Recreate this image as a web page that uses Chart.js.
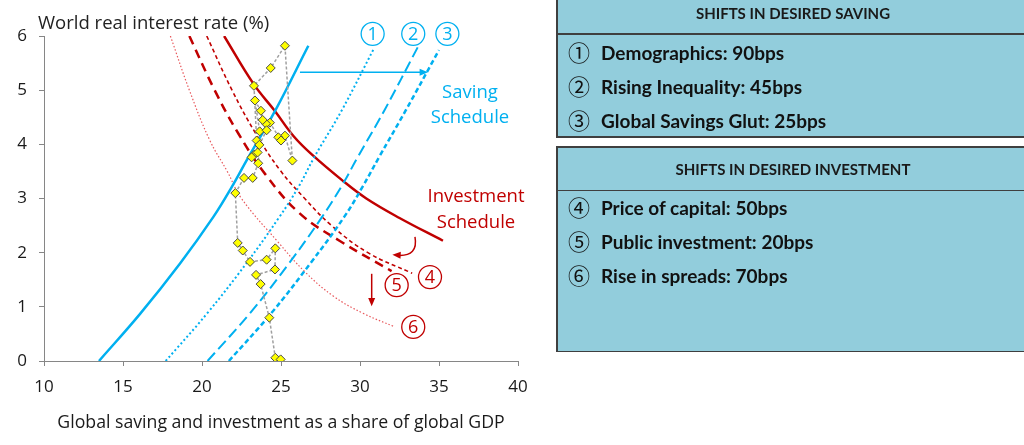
<!DOCTYPE html>
<html><head><meta charset="utf-8">
<script src="https://cdn.jsdelivr.net/npm/chart.js@4/dist/chart.umd.min.js"></script>
<style>
html,body{margin:0;padding:0;background:#fff;overflow:hidden;width:1024px;height:445px;}
canvas{position:absolute;left:0;top:0;}
.bg{position:absolute;background:#92cddc;}
.ln{position:absolute;background:#3f3f3f;}
.hdr{position:absolute;left:556px;width:474px;text-align:center;font:bold 15px Lato,"DejaVu Sans",sans-serif;color:#1a1a1a;line-height:20px;height:20px;}
.item{position:absolute;left:568px;font:bold 19px Lato,"DejaVu Sans",sans-serif;color:#111;white-space:nowrap;line-height:24px;height:24px;}
.item span{font:normal 22px "Noto Sans CJK JP","DejaVu Sans",sans-serif;display:inline-block;width:33px;vertical-align:-1px;line-height:24px;}
</style></head>
<body>
<canvas id="c" width="1024" height="445"></canvas>
<div class="bg" style="left:556px;top:0;width:468px;height:137px"></div>
<div class="ln" style="left:556px;top:0;width:1.5px;height:137px"></div>
<div class="ln" style="left:556px;top:33px;width:468px;height:1.5px"></div>
<div class="ln" style="left:556px;top:136px;width:468px;height:1.5px"></div>
<div class="hdr" style="top:3px">SHIFTS IN DESIRED SAVING</div>
<div class="item" style="top:39px"><span>①</span>Demographics: 90bps</div>
<div class="item" style="top:73px"><span>②</span>Rising Inequality: 45bps</div>
<div class="item" style="top:107px"><span>③</span>Global Savings Glut: 25bps</div>
<div class="bg" style="left:556px;top:146px;width:468px;height:206px"></div>
<div class="ln" style="left:556px;top:146px;width:468px;height:1.5px"></div>
<div class="ln" style="left:556px;top:146px;width:1.5px;height:206px"></div>
<div class="ln" style="left:556px;top:189.5px;width:468px;height:1.5px"></div>
<div class="ln" style="left:556px;top:350.5px;width:468px;height:1.5px"></div>
<div class="hdr" style="top:159px">SHIFTS IN DESIRED INVESTMENT</div>
<div class="item" style="top:194px"><span>④</span>Price of capital: 50bps</div>
<div class="item" style="top:228px"><span>⑤</span>Public investment: 20bps</div>
<div class="item" style="top:262px"><span>⑥</span>Rise in spreads: 70bps</div>
<script>
// ---- data ----
const xTicks = [10, 15, 20, 25, 30, 35, 40];
const yTicks = [0, 1, 2, 3, 4, 5, 6];

// observed world real rate vs saving share (chronological path)
const obsX = [23.31,23.14,23.52,23.46,23.29,24.35,25.25,25.72,25.25,24.83,25.00,24.30,24.05,23.84,23.73,23.35,23.65,24.09,23.63,23.56,23.21,22.66,22.11,22.26,22.58,23.04,24.09,24.64,24.62,23.42,23.71,24.26,24.64,24.98];
const obsY = [3.81,3.76,3.85,4.07,5.08,5.41,5.82,3.70,4.16,4.13,4.07,4.40,4.38,4.45,4.62,4.81,4.24,4.26,3.99,3.65,3.38,3.38,3.10,2.18,2.04,1.83,1.87,2.08,1.69,1.59,1.42,0.80,0.06,0.03];

// saving schedule and shifted saving schedules
const savX  = [13.48,16.08,18.61,20.72,21.88,22.93,24.65,26.73];
const savY  = [0,0.87,1.80,2.66,3.21,3.76,4.63,5.82];
const sav1X = [17.7,20.3,22.8,24.9,26.1,27.1,28.85,30.9];
const sav1Y = [0,0.87,1.80,2.66,3.21,3.76,4.63,5.78];
const sav2X = [20.35,23.0,25.5,27.6,28.8,29.85,31.55,33.65];
const sav2Y = [0,0.87,1.80,2.66,3.21,3.76,4.63,5.79];
const sav3X = [21.7,24.35,26.85,29.0,30.15,31.2,32.9,35.0];
const sav3Y = [0,0.87,1.80,2.66,3.21,3.76,4.63,5.74];

// investment schedule and shifted investment schedules
const invX  = [21.4,23.25,24.6,25.8,27.0,28.9,30.4,32.5,35.25];
const invY  = [6.0,5.12,4.62,4.15,3.80,3.33,3.00,2.64,2.22];
const inv4X = [20.3,21.9,23.4,24.95,26.5,28.2,30.5,33.3];
const inv4Y = [6.0,5.0,4.2,3.52,3.0,2.5,2.0,1.62];
const inv5X = [19.2,20.8,22.3,24.0,26.2,28.7,32.0];
const inv5Y = [6.0,5.0,4.2,3.45,2.72,2.22,1.66];
const inv6X = [18.0,19.2,20.5,21.6,22.5,24.8,26.5,28.3,30.2,32.2];
const inv6Y = [6.0,5.0,4.07,3.5,3.0,2.2,1.65,1.2,0.88,0.63];

const pts = (xs, ys) => xs.map((v, i) => ({x: v, y: ys[i]}));

const BLUE = '#00b0f0', RED = '#c00000', PINK = '#e8585c';
const FONT = '"Open Sans", Lato, sans-serif';

function curve(label, xs, ys, color, width, dash, order) {
  return {label, data: pts(xs, ys), showLine: true, borderColor: color, borderWidth: width,
    borderDash: dash, pointRadius: 0, pointHoverRadius: 0, tension: 0.4,
    fill: false, order, borderCapStyle: 'butt'};
}

const annot = {
  id: 'annot',
  afterDatasetsDraw(chart) {
    const {ctx, scales: {x, y}} = chart;
    const X = v => x.getPixelForValue(v), Y = v => y.getPixelForValue(v);
    ctx.save();
    // y-axis title
    ctx.fillStyle = '#222'; ctx.font = '18.5px ' + FONT;
    ctx.textAlign = 'left'; ctx.textBaseline = 'middle';
    ctx.fillText('World real interest rate (%)', 38, 24);

    function circ(cx, cy, txt, col) {
      ctx.beginPath(); ctx.arc(X(cx), Y(cy), 11.5, 0, Math.PI * 2);
      ctx.fillStyle = '#fff'; ctx.fill();
      ctx.lineWidth = 1.3; ctx.strokeStyle = col; ctx.stroke();
      ctx.fillStyle = col; ctx.font = '18px ' + FONT; ctx.textAlign = 'center'; ctx.textBaseline = 'middle';
      ctx.fillText(txt, X(cx), Y(cy) + 1);
    }
    function arrowHead(tx, ty, ang, col) {
      ctx.beginPath();
      ctx.moveTo(tx, ty);
      ctx.lineTo(tx - 9 * Math.cos(ang - 0.4), ty - 9 * Math.sin(ang - 0.4));
      ctx.lineTo(tx - 9 * Math.cos(ang + 0.4), ty - 9 * Math.sin(ang + 0.4));
      ctx.closePath(); ctx.fillStyle = col; ctx.fill();
    }
    // saving shift arrow
    ctx.strokeStyle = BLUE; ctx.lineWidth = 1.5;
    ctx.beginPath(); ctx.moveTo(X(26.2), Y(5.33)); ctx.lineTo(X(34.1), Y(5.33)); ctx.stroke();
    arrowHead(X(34.3), Y(5.33), 0, BLUE);
    circ(30.8, 6.04, '1', BLUE); circ(33.37, 6.04, '2', BLUE); circ(35.53, 6.04, '3', BLUE);
    ctx.fillStyle = BLUE; ctx.font = '18.5px ' + FONT; ctx.textAlign = 'center'; ctx.textBaseline = 'middle';
    ctx.fillText('Saving', X(36.96), Y(4.96));
    ctx.fillText('Schedule', X(36.96), Y(4.50));
    // investment labels
    ctx.fillStyle = RED;
    ctx.fillText('Investment', X(37.34), Y(3.03));
    ctx.fillText('Schedule', X(37.34), Y(2.56));
    // curved arrow
    ctx.strokeStyle = RED; ctx.lineWidth = 1.5;
    ctx.beginPath(); ctx.moveTo(X(33.48), Y(2.29));
    ctx.quadraticCurveTo(X(33.7), Y(1.93), X(32.4), Y(1.95)); ctx.stroke();
    arrowHead(X(32.05), Y(1.96), Math.PI + 0.05, RED);
    // down arrow
    ctx.beginPath(); ctx.moveTo(X(30.74), Y(1.61)); ctx.lineTo(X(30.74), Y(1.12)); ctx.stroke();
    arrowHead(X(30.74), Y(1.01), Math.PI / 2, RED);
    circ(34.43, 1.55, '4', RED); circ(32.32, 1.40, '5', RED); circ(33.37, 0.63, '6', RED);
    ctx.restore();
  }
};

new Chart(document.getElementById('c'), {
  type: 'scatter',
  data: {datasets: [
    {label: 'Observed', data: pts(obsX, obsY), showLine: true, borderColor: '#a0a0a0', borderWidth: 1.5,
     borderDash: [3, 2], tension: 0, pointStyle: 'rectRot', pointRadius: 4.5, pointBackgroundColor: '#ffff00',
     pointBorderColor: '#4a4a4a', pointBorderWidth: 1, order: 0},
    curve('Saving schedule', savX, savY, BLUE, 2.5, [], 1),
    curve('Demographics', sav1X, sav1Y, BLUE, 2, [2, 2.5], 2),
    curve('Rising inequality', sav2X, sav2Y, BLUE, 2, [11, 5], 3),
    curve('Global savings glut', sav3X, sav3Y, BLUE, 2.5, [5, 3], 4),
    curve('Investment schedule', invX, invY, RED, 2.5, [], 5),
    curve('Price of capital', inv4X, inv4Y, RED, 1.6, [4, 3], 6),
    curve('Public investment', inv5X, inv5Y, RED, 2.5, [9, 6], 7),
    curve('Rise in spreads', inv6X, inv6Y, PINK, 1.2, [1.5, 2], 8)
  ]},
  options: {
    responsive: false, animation: false, devicePixelRatio: 1,
    layout: {padding: {top: 36, right: 506, left: 0, bottom: 0}},
    plugins: {legend: {display: false}, tooltip: {enabled: false}},
    scales: {
      x: {type: 'linear', min: 10, max: 40,
          afterBuildTicks: s => { s.ticks = xTicks.map(v => ({value: v})); },
          afterFit: s => { s.height = 84; },
          grid: {drawOnChartArea: false, drawTicks: true, tickLength: 5, color: '#868686'},
          border: {color: '#868686', width: 1},
          ticks: {font: {family: FONT, size: 17}, color: '#1a1a1a', padding: 11},
          title: {display: true, text: 'Global saving and investment as a share of global GDP',
                  font: {family: FONT, size: 17.7}, color: '#1a1a1a', padding: {top: 0, bottom: 11}}},
      y: {type: 'linear', min: 0, max: 6,
          afterBuildTicks: s => { s.ticks = yTicks.map(v => ({value: v})); },
          afterFit: s => { s.width = 44; },
          grid: {drawOnChartArea: false, drawTicks: true, tickLength: 5, color: '#868686'},
          border: {color: '#868686', width: 1},
          ticks: {font: {family: FONT, size: 17}, color: '#1a1a1a', padding: 12}}
    }
  },
  plugins: [annot]
});
</script>
</body></html>
